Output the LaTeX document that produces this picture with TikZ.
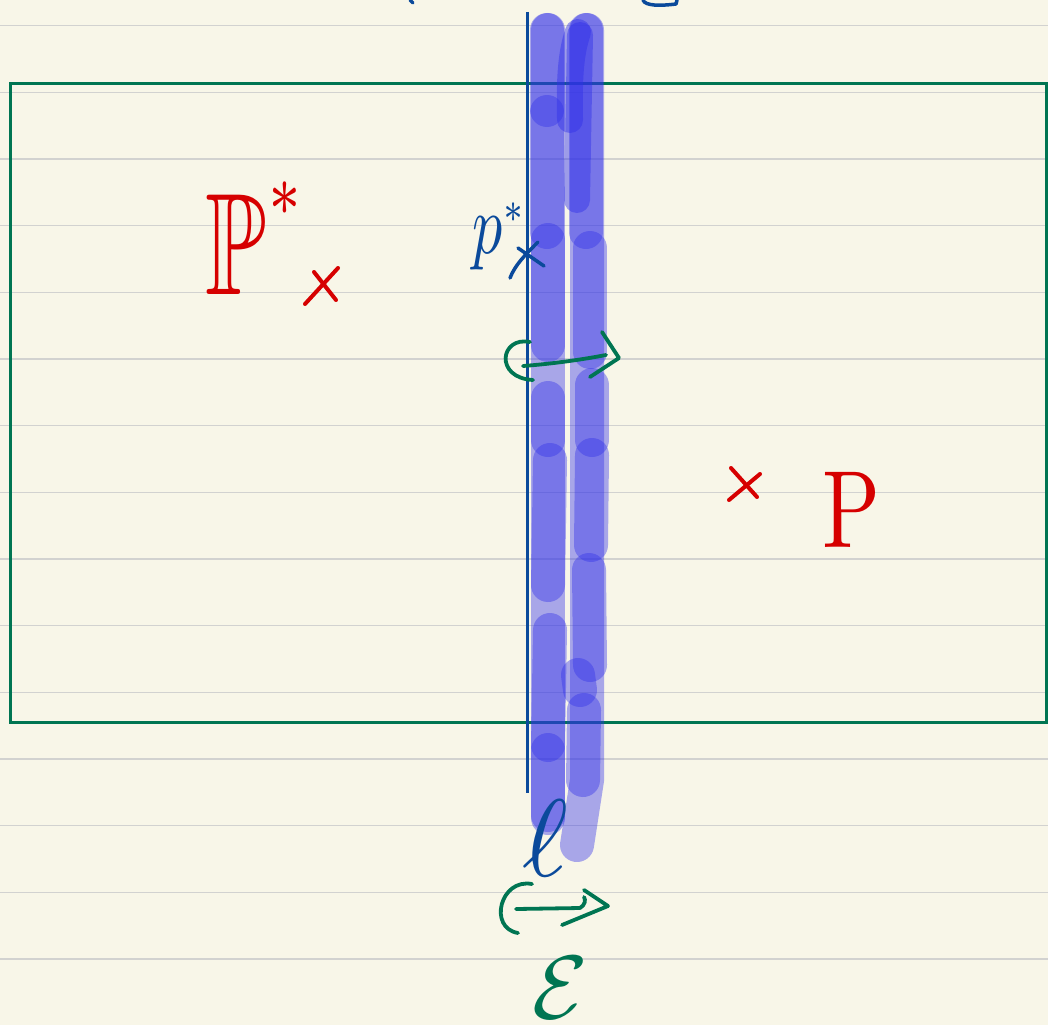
\documentclass[tikz,border=0pt]{standalone}
\usepackage{amssymb}
\definecolor{paper}{HTML}{F8F6E8}
\definecolor{rule}{HTML}{D2D2D0}
\definecolor{ink}{HTML}{0B4A9B}
\definecolor{pen}{HTML}{D60000}
\definecolor{grn}{HTML}{007552}
\definecolor{hl}{HTML}{3030E8}
\tikzset{
  ruled/.style={rule, line width=1.5pt},
  frame/.style={grn, line width=3pt},
  hlstroke/.style={hl, opacity=0.4, line width=34pt, line cap=round},
  hlthin/.style={hl, opacity=0.45, line width=26pt, line cap=round},
  redpen/.style={pen, line width=4pt, line cap=round, line join=round},
  bluepen/.style={ink, line width=3.5pt, line cap=round, line join=round},
  greenpen/.style={grn, line width=3.8pt, line cap=round, line join=round},
  lbl/.style={inner sep=0pt, outer sep=0pt},
}
\begin{document}
\begin{tikzpicture}[x=1pt,y=-1pt]
\fill[paper] (0,0) rectangle (1048,1025);
\useasboundingbox (0,0) rectangle (1048,1025);
% ruled lines
\foreach \y in {25.7,92.4,159,225.7,292.4,359,425.7,492.4,559,625.7,692.4,759,825.7,892.4,959}
  \draw[ruled] (0,\y) -- (1048,\y);
% top fragments
\draw[bluepen] (410,0) -- (413,3);
\draw[bluepen] (643,0) .. controls (645,6) and (660,6) .. (676,4) -- (677,0);
% frame
\draw[frame] (10,83) rectangle (1046,722);
% highlighter: left column
\draw[hlstroke] (548,30) -- (548,818);
\draw[hlstroke] (547,30) -- (547,110);
\draw[hlstroke] (547,112) -- (547,232);
\draw[hlstroke] (548,240) -- (548,345);
\draw[hlstroke] (548,398) -- (548,440);
\draw[hlstroke] (550,460) -- (548,585);
\draw[hlstroke] (550,630) -- (548,745);
\draw[hlstroke] (548,750) -- (548,815);
% highlighter: right column
\draw[hlstroke] (587,30) -- (587,780) -- (577,845);
\draw[hlstroke] (586,30) -- (586,232);
\draw[hlthin] (578,32) .. controls (568,60) and (570,100) .. (570,120);
\draw[hlthin] (580,35) -- (577,200);
\draw[hlstroke] (590,248) -- (590,352);
\draw[hlstroke] (592,385) -- (592,440);
\draw[hlstroke] (592,455) -- (591,545);
\draw[hlstroke] (589,570) -- (590,665);
\draw[hlstroke] (578,675) -- (580,690);
\draw[hlstroke] (584,710) -- (583,780);
% blue line
\draw[ink, line width=3pt] (527,12) -- (527,793);
% red crosses
\draw[redpen] (305,304) -- (338,268);
\draw[redpen] (314,272) -- (336,300);
\draw[redpen] (729,500) -- (760,474);
\draw[redpen] (731,468) -- (757,497);
% blue cross
\draw[bluepen] (510,278) .. controls (515,265) and (525,255) .. (538,242);
\draw[bluepen] (518,248) -- (544,266);
% green hook arrows
\draw[greenpen] (530,342) .. controls (500,336) and (494,378) .. (533,380);
\draw[greenpen] (523,366) .. controls (550,364) and (580,360) .. (606,355);
\draw[greenpen] (602,332) -- (619,358) -- (590,377);
\draw[greenpen] (532,884) .. controls (500,878) and (488,928) .. (518,933);
\draw[greenpen] (516,909) -- (580,908) .. controls (585,905) and (586,900) .. (584,897);
\draw[greenpen] (584,890) -- (608,906) -- (562,925);
% labels
\node[lbl, pen, xscale=10, yscale=14.5, anchor=base west] (Pstar) at (205,294) {$\mathbb{P}^{\raisebox{1.8pt}{$\scriptscriptstyle *$}}$};
\node[lbl, pen, xscale=8.5, yscale=11, anchor=base west] (P) at (822,547) {$\mathrm{P}$};
\node[lbl, ink, xscale=6, yscale=8.5, anchor=base west] (pstar) at (472,253) {$p^{\scriptscriptstyle *}$};
\node[lbl, ink, scale=11, anchor=base] (ell) at (545,876) {$\ell$};
\node[lbl, grn, scale=9, anchor=base] (eps) at (560,1018) {$\mathcal{E}$};
\end{tikzpicture}
\end{document}
